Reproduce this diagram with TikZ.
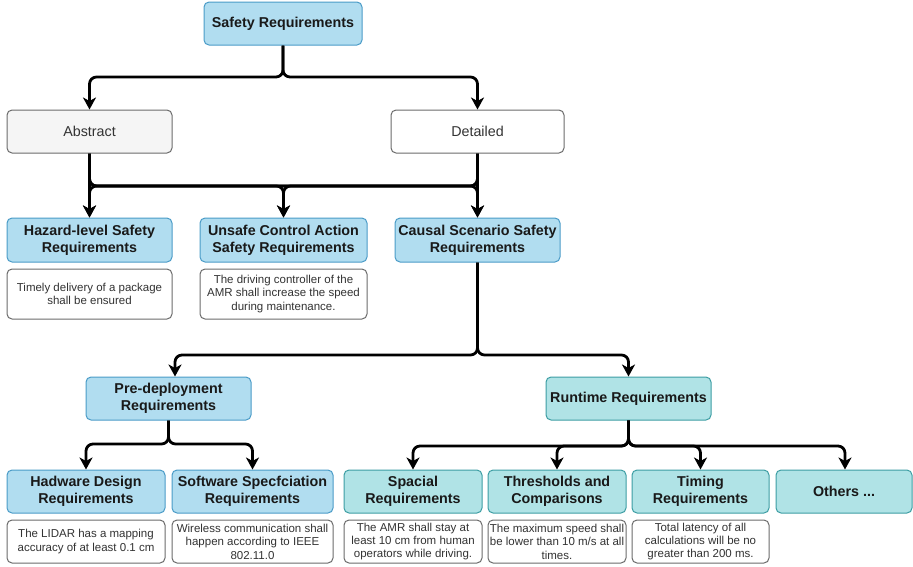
\documentclass[tikz,border=0pt]{standalone}
\usepackage{fontspec}
\setmainfont{Liberation Sans}
\usetikzlibrary{arrows.meta,calc}

\definecolor{hdrfill}{HTML}{B1DDF0}
\definecolor{hdrline}{HTML}{4A9BC7}
\definecolor{rtfill}{HTML}{B0E3E6}
\definecolor{rtline}{HTML}{3C9DA3}
\definecolor{notegray}{HTML}{6B6B6B}
\definecolor{txtgray}{HTML}{333333}
\definecolor{absfill}{HTML}{F5F5F5}

\tikzset{
  box/.style={rounded corners=5pt, line width=1pt, inner sep=1pt, align=center, anchor=center},
  hdr/.style={box, fill=hdrfill, draw=hdrline, font=\fontsize{14.3}{17}\selectfont\bfseries, text=black!90},
  rt/.style={hdr, fill=rtfill, draw=rtline},
  note/.style={box, fill=white, draw=notegray, font=\fontsize{11.5}{13.4}\selectfont, text=txtgray},
  level/.style={box, draw=notegray, font=\fontsize{14.3}{17}\selectfont, text=txtgray},
  link/.style={line width=2.8pt, rounded corners=7pt, line join=round,
               -{Stealth[length=12pt,width=13pt,inset=3.5pt]}},
}

\begin{document}
\begin{tikzpicture}[x=1pt,y=-1pt]
\useasboundingbox (0,0) rectangle (913,566);

% top level
\node[hdr, minimum width=158pt, minimum height=43pt] (safety) at (283,23.5) {Safety Requirements};

% abstraction levels
\node[level, fill=absfill, minimum width=165pt, minimum height=43pt] (abstract) at (89.5,131.5) {Abstract};
\node[level, fill=white, minimum width=173pt, minimum height=43pt] (detailed) at (477.5,131.5) {Detailed};

% requirement kinds
\node[hdr, minimum width=165pt, minimum height=44pt] (hazard) at (89.5,240) {Hazard-level Safety\\Requirements};
\node[hdr, minimum width=167pt, minimum height=44pt] (uca) at (283.5,240) {Unsafe Control Action\\Safety Requirements};
\node[hdr, minimum width=165pt, minimum height=44pt] (causal) at (477.5,240) {Causal Scenario Safety\\Requirements};

\node[note, minimum width=165pt, minimum height=50pt] (hazardnote) at (89.5,294) {Timely delivery of a package\\shall be ensured};
\node[note, minimum width=167pt, minimum height=50pt] (ucanote) at (283.5,294) {The driving controller of the\\AMR shall increase the speed\\during maintenance.};

% causal scenario split
\node[hdr, minimum width=165pt, minimum height=43pt] (pre) at (168.5,398.5) {Pre-deployment\\Requirements};
\node[rt, minimum width=165pt, minimum height=43pt] (runtime) at (628.5,398.5) {Runtime Requirements};

% leaves
\node[hdr, minimum width=158pt, minimum height=43pt] (hw) at (86,491.5) {Hadware Design\\Requirements};
\node[hdr, minimum width=161pt, minimum height=43pt] (sw) at (252.5,491.5) {Software Specfciation\\Requirements};
\node[rt, minimum width=138pt, minimum height=43pt] (spacial) at (413,491.5) {Spacial\\Requirements};
\node[rt, minimum width=138pt, minimum height=43pt] (thresh) at (557,491.5) {Thresholds and\\Comparisons};
\node[rt, minimum width=137pt, minimum height=43pt] (timing) at (700.5,491.5) {Timing\\Requirements};
\node[rt, minimum width=136pt, minimum height=43pt] (others) at (844,491.5) {Others ...};

\node[note, minimum width=158pt, minimum height=43pt] (hwnote) at (86,541.5) {The LIDAR has a mapping\\accuracy of at least 0.1 cm};
\node[note, minimum width=161pt, minimum height=43pt] (swnote) at (252.5,541.5) {Wireless communication shall\\happen according to IEEE\\802.11.0};
\node[note, minimum width=138pt, minimum height=43pt] (spacialnote) at (413,541.5) {The AMR shall stay at\\least 10 cm from human\\operators while driving.};
\node[note, minimum width=138pt, minimum height=43pt] (threshnote) at (557,541.5) {The maximum speed shall\\be lower than 10 m/s at all\\times.};
\node[note, minimum width=137pt, minimum height=43pt] (timingnote) at (700.5,541.5) {Total latency of all\\calculations will be no\\greater than 200 ms.};

% branching points
\coordinate (j1) at (283,77);
\coordinate (j2) at (89.5,186);
\coordinate (j4) at (477.5,355);
\coordinate (j5) at (168.5,444);
\coordinate (j6) at (628.5,446);

% connectors
\draw[link] (safety.south) -- (j1) -| (abstract.north);
\draw[link] (safety.south) -- (j1) -| (detailed.north);

\draw[link] (abstract.south) -- (hazard.north);
\draw[link] (abstract.south) -- (abstract.south |- j2) -| (uca.north);
\draw[link] (abstract.south) -- (abstract.south |- j2) -| (causal.north);
\draw[link] (detailed.south) -- (causal.north);
\draw[link] (detailed.south) -- (detailed.south |- j2) -| (uca.north);
\draw[link] (detailed.south) -- (detailed.south |- j2) -| (hazard.north);

\draw[link] (causal.south) -- (j4) -| ($(pre.north)+(6.5,0)$);
\draw[link] (causal.south) -- (j4) -| (runtime.north);

\draw[link] (pre.south) -- (j5) -| (hw.north);
\draw[link] (pre.south) -- (j5) -| (sw.north);

\draw[link] (runtime.south) -- (j6) -| (spacial.north);
\draw[link] (runtime.south) -- (j6) -| (thresh.north);
\draw[link] (runtime.south) -- (j6) -| (timing.north);
\draw[link] (runtime.south) -- (j6) -| ($(others.north)+(1,0)$);
\end{tikzpicture}
\end{document}
